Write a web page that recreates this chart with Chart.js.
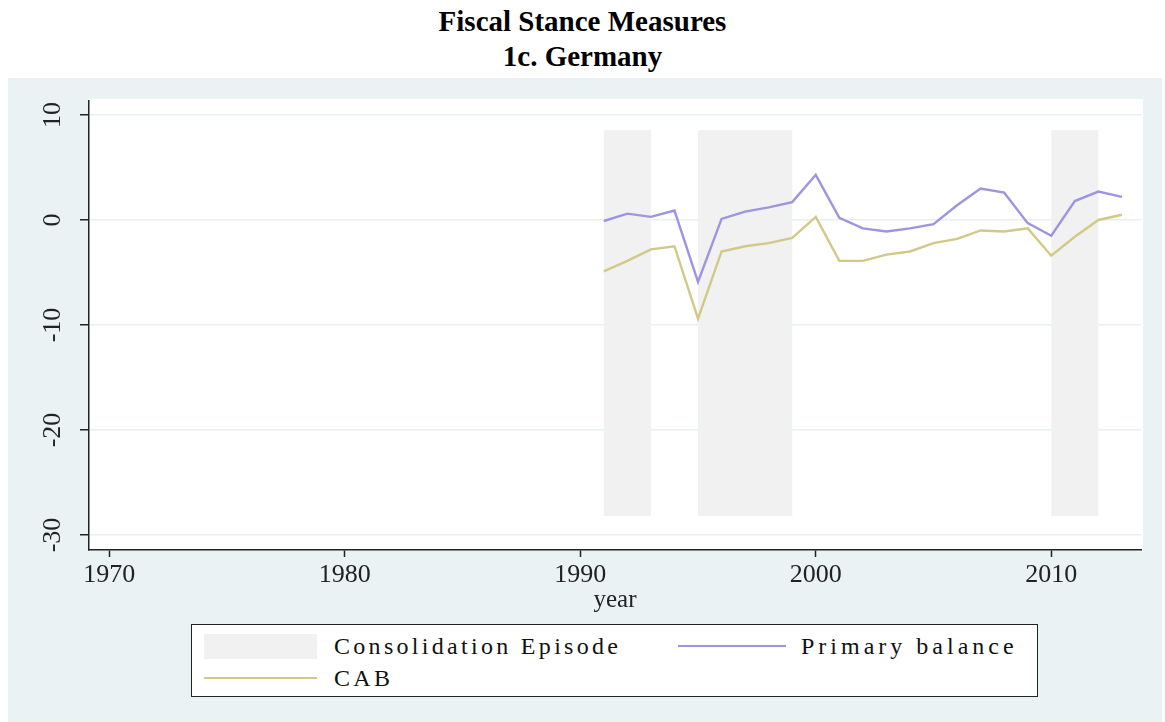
<!DOCTYPE html>
<html>
<head>
<meta charset="utf-8">
<script src="https://cdn.jsdelivr.net/npm/chart.js@4"></script>
<style>
  body { margin: 0; background: #fff; width: 1165px; height: 722px; overflow: hidden; position: relative; }
  #title { position: absolute; left: 0; top: 4px; width: 1165px; text-align: center;
           font: bold 29px "Liberation Serif", serif; line-height: 35px; color: #000; }
  #panel { position: absolute; left: 8px; top: 78px; width: 1154px; height: 644px; background: #eaf2f3; }
  #chart { position: absolute; left: 0; top: 0; }
  #legend { position: absolute; left: 183px; top: 546px; width: 845px; height: 71px;
            border: 1.5px solid #222; background: #fff; font: 24px "Liberation Serif", serif; color: #111; letter-spacing: 3.3px; }
  .sw { position: absolute; }
  .tx { position: absolute; line-height: 24px; }
</style>
</head>
<body>
<div id="title">Fiscal Stance Measures<br>1c. Germany</div>
<div id="panel">
  <canvas id="chart" width="1154" height="540"></canvas>
  <div id="legend">
    <div class="sw" style="left:12px;top:9px;width:113px;height:25px;background:#f1f1f1"></div>
    <div class="tx" style="left:142px;top:9px">Consolidation Episode</div>
    <div class="sw" style="left:486px;top:20px;width:108px;height:2px;background:#9d94e2"></div>
    <div class="tx" style="left:609px;top:9px;letter-spacing:4px">Primary balance</div>
    <div class="sw" style="left:12px;top:52px;width:113px;height:2px;background:#d2c888"></div>
    <div class="tx" style="left:142px;top:41px">CAB</div>
  </div>
</div>
<script>
// data
const years = [1991, 1992, 1993, 1994, 1995, 1996, 1997, 1998, 1999, 2000, 2001, 2002,
               2003, 2004, 2005, 2006, 2007, 2008, 2009, 2010, 2011, 2012, 2013];
const primaryBalance = [-0.1, 0.6, 0.3, 0.9, -5.9, 0.1, 0.8, 1.2, 1.7, 4.3, 0.2, -0.8,
                        -1.1, -0.8, -0.4, 1.4, 3.0, 2.6, -0.3, -1.5, 1.8, 2.7, 2.2];
const cab = [-4.9, -3.9, -2.8, -2.5, -9.4, -3.0, -2.5, -2.2, -1.7, 0.3, -3.9, -3.9,
             -3.3, -3.0, -2.2, -1.8, -1.0, -1.1, -0.8, -3.4, -1.6, 0.0, 0.5];
const episodeStart = [1991, 1995, 2010];
const episodeEnd = [1993, 1999, 2012];
const episodeRange = [-28.2, 8.55];
const xTicks = [1970, 1980, 1990, 2000, 2010];
const yTicks = [-30, -20, -10, 0, 10];

const tickFont = { family: 'Liberation Serif', size: 26 };

// white plot region, shaded episodes, rotated y labels (stata style)
const stataLook = {
    id: 'stataLook',
    beforeDraw(chart) {
        const a = chart.chartArea, ctx = chart.ctx;
        ctx.save();
        ctx.fillStyle = '#fff';
        ctx.fillRect(a.left, a.top - 2, a.right - a.left + 2, a.bottom - a.top + 2);
        ctx.restore();
    },
    beforeDatasetsDraw(chart) {
        const x = chart.scales.x, y = chart.scales.y, ctx = chart.ctx;
        ctx.save();
        ctx.fillStyle = '#f1f1f1';
        episodeStart.forEach((s, i) => {
            const x0 = x.getPixelForValue(s), x1 = x.getPixelForValue(episodeEnd[i]);
            const y0 = y.getPixelForValue(episodeRange[1]), y1 = y.getPixelForValue(episodeRange[0]);
            ctx.fillRect(x0, y0, x1 - x0, y1 - y0);
        });
        ctx.restore();
    },
    afterDraw(chart) {
        const y = chart.scales.y, ctx = chart.ctx;
        ctx.save();
        ctx.font = '26px "Liberation Serif"';
        ctx.fillStyle = '#222';
        ctx.textAlign = 'center';
        ctx.textBaseline = 'middle';
        yTicks.forEach(v => {
            ctx.save();
            ctx.translate(45, y.getPixelForValue(v));
            ctx.rotate(-Math.PI / 2);
            ctx.fillText(String(v), 0, 0);
            ctx.restore();
        });
        ctx.restore();
    }
};

new Chart(document.getElementById('chart'), {
    type: 'line',
    data: {
        datasets: [
            {
                label: 'Primary balance',
                data: years.map((yr, i) => ({ x: yr, y: primaryBalance[i] })),
                borderColor: '#9d94e2',
                borderWidth: 2.4,
                pointRadius: 0,
                tension: 0
            },
            {
                label: 'CAB',
                data: years.map((yr, i) => ({ x: yr, y: cab[i] })),
                borderColor: '#d2c888',
                borderWidth: 2.4,
                pointRadius: 0,
                tension: 0
            }
        ]
    },
    plugins: [stataLook],
    options: {
        responsive: false,
        animation: false,
        layout: { padding: { left: 0, top: 23, right: 21, bottom: 0 } },
        plugins: { legend: { display: false }, tooltip: { enabled: false } },
        scales: {
            x: {
                type: 'linear',
                min: 1969.14,
                max: 2013.81,
                afterBuildTicks: (s) => { s.ticks = xTicks.map(v => ({ value: v })); },
                afterFit: (s) => { s.height = 68; },
                ticks: { color: '#222', font: tickFont, padding: 3, maxRotation: 0, callback: (v) => String(v) },
                grid: { drawOnChartArea: false, tickLength: 7, tickColor: '#222', tickWidth: 1.5 },
                border: { display: true, color: '#222', width: 1.5 },
                title: { display: true, text: 'year', color: '#222', font: { family: 'Liberation Serif', size: 25 }, padding: { top: 0, bottom: 3 } }
            },
            y: {
                min: -31.43,
                max: 11.33,
                afterBuildTicks: (s) => { s.ticks = yTicks.map(v => ({ value: v })); },
                afterFit: (s) => { s.width = 81; },
                ticks: { display: false },
                grid: { color: '#e8f0f2', lineWidth: 1.5, tickLength: 9, tickColor: '#222', tickWidth: 1.5 },
                border: { display: true, color: '#222', width: 1.5 }
            }
        }
    }
});
</script>
</body>
</html>
